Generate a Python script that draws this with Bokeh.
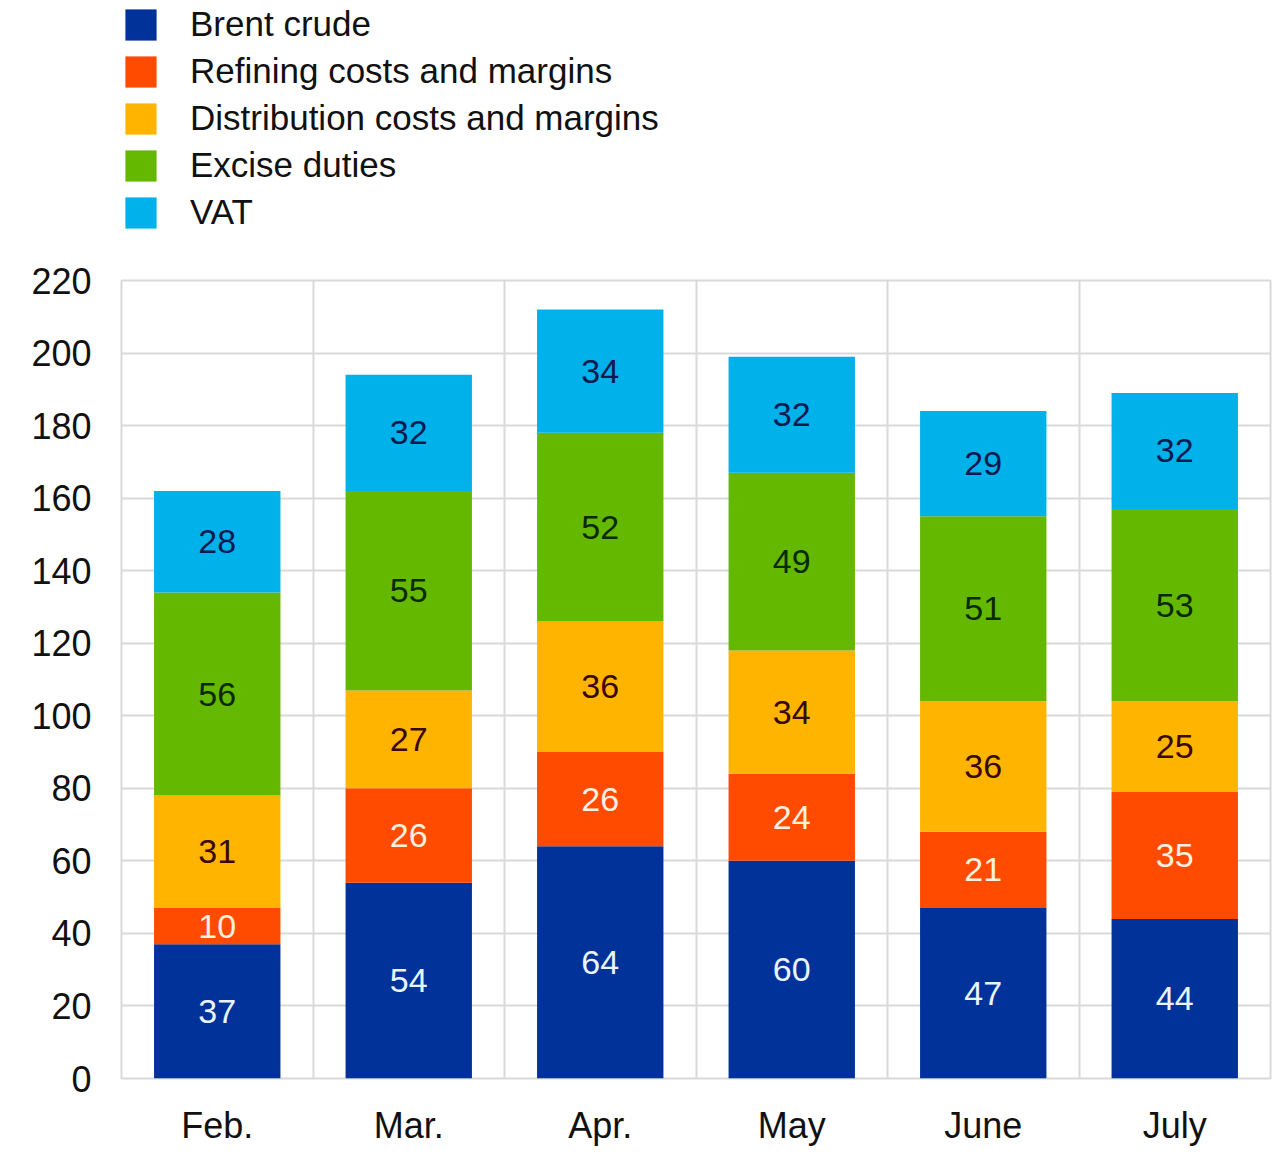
from bokeh.plotting import figure
from bokeh.layouts import column
from bokeh.models import ColumnDataSource, Range1d, FixedTicker, Legend, LegendItem
from bokeh.embed import file_html
from bokeh.resources import INLINE
from bokeh.core.properties import value

months = ["Feb.", "Mar.", "Apr.", "May", "June", "July"]
series = ["Brent crude", "Refining costs and margins", "Distribution costs and margins",
          "Excise duties", "VAT"]
brent = [37, 54, 64, 60, 47, 44]
refining = [10, 26, 26, 24, 21, 35]
distribution = [31, 27, 36, 34, 36, 25]
excise = [56, 55, 52, 49, 51, 53]
vat = [28, 32, 34, 32, 29, 32]
y_ticks = list(range(0, 221, 20))

colors = ["#003299", "#FF4B00", "#FFB400", "#65B800", "#00B1EA"]
label_colors = ["#EAF4FF", "#FFF0E0", "#3A0800", "#0A2A05", "#0A1A50"]
keys = ["brent", "refining", "distribution", "excise", "vat"]
values = [brent, refining, distribution, excise, vat]

x = list(range(len(months)))
data = {"x": x}
for k, v in zip(keys, values):
    data[k] = v
source = ColumnDataSource(data)

FONT = "Liberation Sans"

# ---- legend strip above the chart ----
pl = figure(width=1272, height=250, output_backend="svg", toolbar_location=None,
            x_range=Range1d(0, 1), y_range=Range1d(0, 1),
            min_border_left=115, min_border_top=4, min_border_right=0, min_border_bottom=0)
pl.axis.visible = False
pl.grid.visible = False
pl.outline_line_color = None
# legend swatches: renderers placed outside the visible range of this strip
dummy = [pl.vbar(x=[-10], top=[-10], bottom=[-11], width=0.5, fill_color=c, line_color=None)
         for c in colors]
legend = Legend(items=[LegendItem(label=s, renderers=[r]) for s, r in zip(series, dummy)],
                location="top_left", orientation="vertical",
                glyph_width=39, glyph_height=39, label_standoff=30, spacing=7,
                label_height=31, padding=0, margin=0,
                label_text_font=FONT, label_text_font_size="35px",
                label_text_color="#111111",
                background_fill_alpha=0, border_line_color=None)
pl.add_layout(legend, "center")

# ---- main chart ----
p = figure(width=1272, height=900, output_backend="svg", toolbar_location=None,
           x_range=Range1d(-0.5, len(months) - 0.5), y_range=Range1d(0, 220),
           min_border_left=121, min_border_right=2, min_border_top=30, min_border_bottom=72)
p.background_fill_color = "white"
p.border_fill_color = "white"
p.outline_line_color = "#D9D9D9"
p.outline_line_width = 2

renderers = p.vbar_stack(keys, x="x", width=0.66, source=source, color=colors,
                         line_color=None)

for i, (k, v) in enumerate(zip(keys, values)):
    base = [sum(values[j][m] for j in range(i)) for m in range(len(months))]
    mids = [b + val / 2 for b, val in zip(base, v)]
    src = ColumnDataSource({"x": x, "y": mids, "t": [str(val) for val in v]})
    p.text(x="x", y="y", text="t", source=src, text_align="center", text_baseline="middle",
           text_font=value(FONT), text_font_size="34px", text_color=label_colors[i])

p.xaxis.ticker = FixedTicker(ticks=x)
p.xaxis.major_label_overrides = {i: m for i, m in enumerate(months)}
p.yaxis.ticker = FixedTicker(ticks=y_ticks)
for ax in (p.xaxis[0], p.yaxis[0]):
    ax.axis_line_color = None
    ax.major_tick_line_color = None
    ax.minor_tick_line_color = None
    ax.major_tick_out = 0
    ax.major_tick_in = 0
    ax.major_label_text_font = FONT
    ax.major_label_text_color = "#111111"
p.yaxis.major_label_text_font_size = "36px"
p.yaxis.major_label_standoff = 30
p.xaxis.major_label_text_font_size = "36px"
p.xaxis.major_label_standoff = 26

p.ygrid.ticker = FixedTicker(ticks=y_ticks)
p.ygrid.grid_line_color = "#D9D9D9"
p.ygrid.grid_line_width = 2
p.xgrid.ticker = FixedTicker(ticks=[i + 0.5 for i in range(len(months) - 1)])
p.xgrid.grid_line_color = "#D9D9D9"
p.xgrid.grid_line_width = 2

layout = column(pl, p, spacing=0)
open("out.html", "w").write(file_html(layout, INLINE))
